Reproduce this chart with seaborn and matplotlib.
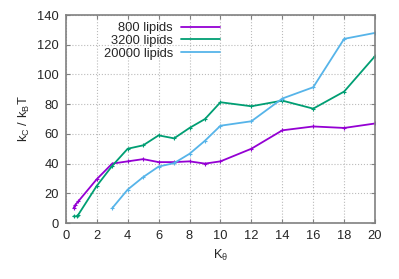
import pandas as pd
import matplotlib.pyplot as plt
import seaborn as sns

# Data
k800_x = [0.5, 0.6, 0.8, 2, 3, 4, 5, 6, 7, 8, 9, 10, 12, 14, 16, 18, 20]
k800_y = [10, 12, 14.5, 29.5, 40, 41.5, 43, 41, 41, 41.5, 40, 41.5, 50, 62.4, 65, 64, 67]

k3200_x = [0.5, 0.7, 0.8, 2, 3, 4, 5, 6, 7, 8, 9, 10, 12, 14, 16, 18, 20]
k3200_y = [4.5, 4.5, 5.5, 25, 38.5, 50, 52.3, 59, 57, 64, 70, 81.3, 78.6, 82.4, 77, 88.5, 112.4]

k20000_x = [3, 4, 5, 6, 7, 8, 9, 10, 12, 14, 16, 18, 20]
k20000_y = [10, 22.5, 30.9, 38, 40.3, 46.6, 55.4, 65.5, 68.5, 83.8, 91.4, 124, 128]

labels = ['800 lipids', '3200 lipids', '20000 lipids']
colors = ['#9400D3', '#009E73', '#56B4E9']
series = [(k800_x, k800_y), (k3200_x, k3200_y), (k20000_x, k20000_y)]

sns.set_style('ticks')
plt.rcParams['font.family'] = ['Liberation Sans', 'DejaVu Sans']
plt.rcParams['mathtext.fontset'] = 'custom'
plt.rcParams['mathtext.rm'] = 'Liberation Sans'
plt.rcParams['mathtext.it'] = 'Liberation Sans'

fig = plt.figure(figsize=(3.99, 2.79), dpi=100)
ax = fig.add_axes([0.165, 0.2007, 0.775, 0.7453])

for (xs, ys), lab, c in zip(series, labels, colors):
    sns.lineplot(x=xs, y=ys, color=c, label=lab, marker='+', markersize=3,
                 markeredgewidth=0.8, markeredgecolor=c, linewidth=1.3,
                 ax=ax, sort=False)

ax.set_xlim(0, 20)
ax.set_ylim(0, 140)
ax.set_xticks(range(0, 21, 2))
ax.set_yticks(range(0, 141, 20))
ax.grid(True, linestyle=':', color='#bbbbbb', linewidth=0.8)
ax.tick_params(direction='in', length=3, labelsize=9.3, color='#808080',
               top=True, right=True, pad=5)
for s in ax.spines.values():
    s.set_color('#808080')
    s.set_linewidth(1.2)

ax.set_xlabel(r'K$_\theta$', fontsize=9.3)
ax.set_ylabel(r'k$_C$ / k$_B$T', fontsize=9.3)

leg = ax.legend(loc='upper left', bbox_to_anchor=(0.1, 1.0), markerfirst=False,
                frameon=False, fontsize=9.3, handlelength=3.0, labelspacing=0.05,
                borderaxespad=0.15, handletextpad=0.6)
for h in leg.legend_handles:
    h.set_marker('')
for t in leg.get_texts():
    t.set_ha('right')
leg._legend_box.align = 'right'

plt.savefig('out.png', dpi=100)
